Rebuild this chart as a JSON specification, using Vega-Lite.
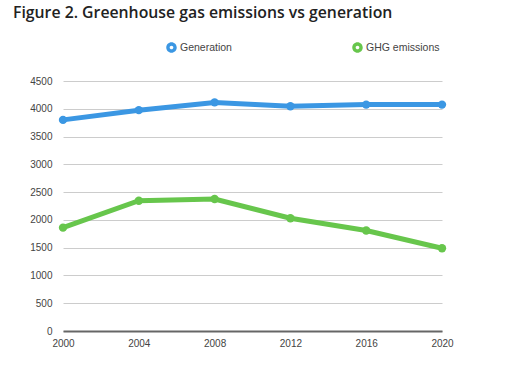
{
  "$schema": "https://vega.github.io/schema/vega-lite/v6.json",
  "width": 379,
  "height": 250,
  "autosize": {"type": "none"},
  "padding": {"left": 63, "top": 81, "right": 69, "bottom": 36},
  "background": "white",
  "title": {
    "text": "Figure 2. Greenhouse gas emissions vs generation",
    "anchor": "start",
    "frame": "group",
    "font": "Open Sans",
    "fontSize": 15.8,
    "fontWeight": 600,
    "color": "#222222",
    "dx": -50,
    "offset": 20
  },
  "data": {
    "values": [
      {"year": 2000, "series": "Generation", "value": 3800},
      {"year": 2004, "series": "Generation", "value": 3975},
      {"year": 2008, "series": "Generation", "value": 4115},
      {"year": 2012, "series": "Generation", "value": 4045},
      {"year": 2016, "series": "Generation", "value": 4075},
      {"year": 2020, "series": "Generation", "value": 4075},
      {"year": 2000, "series": "GHG emissions", "value": 1860},
      {"year": 2004, "series": "GHG emissions", "value": 2345},
      {"year": 2008, "series": "GHG emissions", "value": 2375},
      {"year": 2012, "series": "GHG emissions", "value": 2030},
      {"year": 2016, "series": "GHG emissions", "value": 1810},
      {"year": 2020, "series": "GHG emissions", "value": 1490}
    ]
  },
  "mark": {"type": "line", "strokeWidth": 5, "point": {"size": 70, "filled": true, "opacity": 1}},
  "encoding": {
    "x": {
      "field": "year",
      "type": "quantitative",
      "scale": {"domain": [2000, 2020], "nice": false, "zero": false},
      "axis": {
        "title": null,
        "values": [2000, 2004, 2008, 2012, 2016, 2020],
        "format": "d",
        "grid": false,
        "ticks": false,
        "domain": true,
        "domainColor": "#666666",
        "domainWidth": 2,
        "labelFlush": false,
        "labelFont": "Liberation Sans",
        "labelFontSize": 10,
        "labelColor": "#444444",
        "labelPadding": 7
      }
    },
    "y": {
      "field": "value",
      "type": "quantitative",
      "scale": {"domain": [0, 4500], "nice": false},
      "axis": {
        "title": null,
        "values": [0, 500, 1000, 1500, 2000, 2500, 3000, 3500, 4000, 4500],
        "format": "d",
        "grid": true,
        "gridColor": "#cccccc",
        "gridWidth": 1,
        "ticks": false,
        "domain": false,
        "labelFlush": false,
        "labelFont": "Liberation Sans",
        "labelFontSize": 10,
        "labelColor": "#444444",
        "labelPadding": 11
      }
    },
    "color": {
      "field": "series",
      "type": "nominal",
      "sort": ["Generation", "GHG emissions"],
      "scale": {"domain": ["Generation", "GHG emissions"], "range": ["#3b97e3", "#67c64c"]},
      "legend": {
        "title": null,
        "orient": "none",
        "direction": "horizontal",
        "legendX": 103,
        "legendY": -39,
        "columnPadding": 120,
        "symbolType": "M-1,0A1,1 0 1,0 1,0A1,1 0 1,0 -1,0Z M-0.35,0A0.35,0.35 0 1,1 0.35,0A0.35,0.35 0 1,1 -0.35,0Z",
        "symbolSize": 110,
        "symbolStrokeWidth": 0,
        "symbolOpacity": 1,
        "labelFont": "Liberation Sans",
        "labelFontSize": 10.5,
        "labelColor": "#444444",
        "labelOffset": 3
      }
    }
  },
  "config": {"view": {"stroke": null}}
}
